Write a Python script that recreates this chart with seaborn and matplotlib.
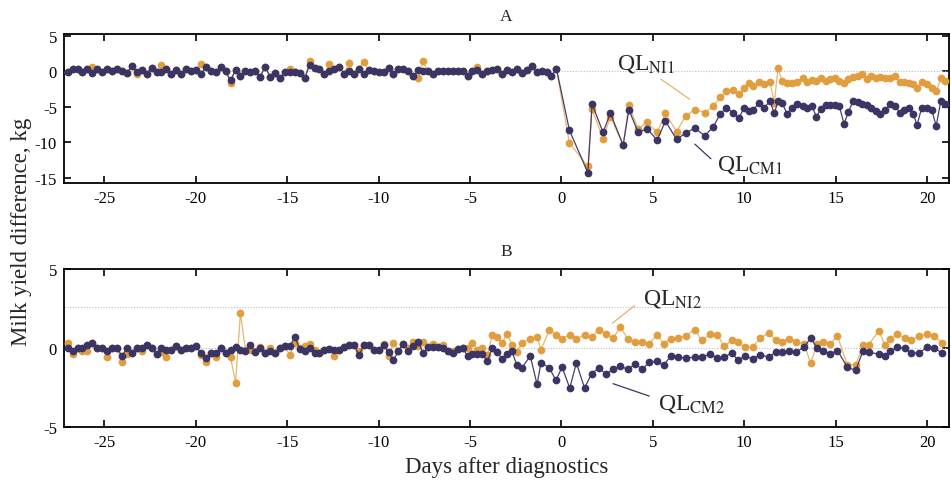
import numpy as np
import pandas as pd
import matplotlib
matplotlib.use("Agg")
import matplotlib.pyplot as plt
import seaborn as sns

# ---------------- data ----------------
# time grid before diagnosis (about 3.7 records per day)
days_pre_A = np.round(np.arange(100) * 0.27 - 27.0, 2)
days_pre_B = np.round(np.arange(93) * 0.27 - 27.0, 2)

cm1_pre = [-0.1, 0.4, 0.4, -0.1, 0.3, -0.2, 0.4, -0.1, 0.3, 0.0,
           0.3, 0.0, -0.2, 0.75, -0.1, 0.2, -0.3, 0.5, -0.1, -0.1,
           0.4, -0.4, 0.2, -0.4, 0.3, 0.0, 0.2, -0.3, 0.6, 0.0,
           -0.1, 0.6, 0.0, -1.25, 0.2, -0.65, 0.0, -0.1, 0.0, -0.75,
           0.65, -0.75, -0.2, -1.0, -0.1, -0.1, -0.1, -0.2, -1.0, 0.9,
           0.5, 0.4, -0.4, 0.1, 0.4, 0.6, -0.3, 0.0, -0.3, 0.4,
           -0.3, 0.2, 0.0, -0.1, -0.1, 0.5, -0.4, 0.3, 0.4, 0.0,
           -0.7, 0.2, 0.0, 0.0, -0.4, 0.0, 0.0, 0.0, 0.0, 0.0,
           0.0, -0.6, 0.0, 0.2, -0.4, 0.0, 0.2, 0.4, -0.4, 0.2,
           -0.1, 0.4, -0.2, 0.2, 0.7, -0.1, 0.0, -0.1, -0.7, 0.4]
ni1_pre = [-0.1, 0.4, 0.4, -0.1, 0.3, 0.6, 0.4, -0.1, 0.3, 0.0,
           0.3, 0.0, -0.2, 0.75, -0.4, 0.2, -0.3, 0.5, -0.1, 0.85,
           0.4, -0.4, 0.2, -0.4, 0.3, 0.0, 0.2, 1.0, 0.6, 0.0,
           -0.1, 0.6, 0.0, -1.6, 0.2, -0.65, 0.0, -0.1, 0.0, -0.75,
           0.65, -0.75, -0.2, -1.0, -0.1, 0.35, -0.1, -0.2, -1.0, 1.4,
           0.5, 0.4, -0.4, 1.1, 0.4, 0.6, -0.3, 1.2, -0.3, 0.4,
           1.3, 0.2, 0.0, -0.1, -0.1, 0.5, -0.4, 0.3, 0.4, 0.0,
           -0.7, -1.0, 1.4, 0.0, -0.4, 0.0, 0.0, 0.0, 0.0, 0.0,
           0.0, -0.6, 0.0, 0.6, -0.4, 0.0, 0.2, 0.4, -0.4, 0.2,
           -0.1, 0.4, -0.2, 0.2, 0.7, -0.1, 0.0, -0.1, -0.7, 0.4]

days_post_A = [0.44, 1.45, 1.68, 2.28, 2.68, 3.38, 3.69, 4.2, 4.69, 5.24,
               5.69, 6.3, 6.79, 7.3, 7.85,
               8.3, 8.7, 9.03, 9.4, 9.7, 10.0, 10.25, 10.5, 10.8, 11.08,
               11.4, 11.65, 11.85, 12.08, 12.35, 12.6, 12.9, 13.2, 13.45, 13.7,
               13.95, 14.2, 14.45, 14.7, 14.95, 15.2, 15.46, 15.7, 15.95, 16.2,
               16.45, 16.7, 16.95, 17.2, 17.45, 17.7, 18.0, 18.25, 18.5, 18.75,
               19.0, 19.25, 19.45, 19.7, 20.0, 20.25, 20.5, 20.75, 21.0]
cm1_post = [-8.3, -14.3, -4.6, -8.6, -5.9, -10.4, -5.4, -8.6, -8.1, -9.7,
            -7.0, -9.6, -8.7, -8.0, -9.1,
            -7.8, -6.0, -5.1, -5.9, -6.6, -5.1, -5.6, -5.4, -4.5, -5.2,
            -4.2, -5.9, -4.2, -4.5, -6.0, -5.1, -4.6, -4.9, -5.2, -4.9,
            -6.4, -5.3, -4.8, -4.7, -4.7, -4.9, -7.4, -5.7, -4.2, -4.3,
            -4.6, -4.8, -5.1, -5.6, -6.0, -5.4, -4.6, -4.9, -5.8, -5.4,
            -5.1, -6.0, -7.6, -5.2, -5.1, -5.4, -7.7, -4.2, -4.6]
ni1_post = [-10.1, -13.4, -5.3, -9.5, -6.4, -10.4, -4.8, -8.1, -7.2, -8.6,
            -5.9, -8.5, -6.3, -5.4, -5.8,
            -4.9, -3.6, -2.8, -2.6, -3.2, -2.3, -1.7, -2.1, -1.5, -1.8,
            -1.5, -4.4, 0.5, -1.4, -1.7, -1.7, -1.5, -1.0, -1.5, -1.2,
            -1.4, -1.0, -1.4, -1.1, -0.9, -1.3, -1.6, -1.1, -0.8, -0.6,
            -0.3, -1.1, -0.6, -0.9, -0.8, -0.9, -1.0, -0.7, -1.5, -1.5,
            -1.7, -1.8, -2.3, -1.5, -1.8, -2.3, -2.8, -1.0, -1.4]

cm2_pre = [0.0, -0.2, 0.0, 0.0, 0.2, 0.3, 0.0, 0.0, -0.2, 0.0,
           0.0, -0.5, 0.0, -0.3, 0.0, 0.0, 0.2, 0.0, -0.4, 0.0,
           -0.1, -0.1, 0.15, -0.15, 0.0, 0.0, 0.1, -0.3, -0.65, -0.3,
           -0.3, 0.0, -0.3,
           -0.1, 0.05, -0.15, -0.2, 0.2, -0.25, 0.0, -0.3, -0.2, -0.3,
           0.0, 0.1, 0.1, 0.7, -0.05, -0.2, 0.0, -0.3, -0.3,
           -0.1, -0.05, -0.1, -0.15, 0.05, 0.16, 0.16, -0.43, 0.16, 0.2,
           -0.15, -0.15, 0.16, -0.26, -0.79, -0.16, 0.27, -0.16, 0.1, 0.41,
           -0.33, 0.05, 0.05, 0.05, 0.0, -0.16, -0.3, -0.05, 0.0, -0.5,
           -0.37, -0.37, -0.37, -0.85, 0.0, -0.26, -0.68, -0.4, -0.22, -1.1,
           -1.27]
ni2_pre = [0.33, -0.37, 0.0, -0.2, -0.2, 0.3, 0.0, 0.0, -0.55, 0.0,
           0.0, -0.9, -0.4, -0.3, 0.0, -0.2, 0.2, 0.0, -0.4, -0.25,
           -0.55, -0.1, 0.15, -0.15, 0.0, 0.0, 0.1, -0.45, -0.9, -0.3,
           -0.55, 0.0, -0.3,
           -0.58, -2.2, 2.2, -0.1, -0.15, -0.2, 0.05, -0.3, 0.0, -0.3,
           0.0, 0.1, -0.45, 0.3, 0.0, 0.1, 0.27, -0.15, -0.3,
           -0.1, -0.05, -0.5, -0.15, 0.05, 0.16, 0.16, -0.2, 0.16, 0.2,
           -0.15, -0.15, 0.27, -0.5, 0.33, -0.16, 0.27, 0.0, 0.41, 0.1,
           0.41, 0.05, 0.27, 0.05, 0.16, -0.16, -0.16, -0.05, 0.0, 0.0,
           0.33, -0.1, 0.0, -0.47, 0.83, 0.69, 0.33, 0.9, 0.2, -0.26,
           0.33]

days_post_B = [-1.7, -1.33, -1.11, -0.65, -0.3, 0.04, 0.46, 0.82, 1.27, 1.65,
               2.04, 2.44, 2.83, 3.23, 3.63, 4.05, 4.42, 4.8, 5.24, 5.6,
               5.97, 6.4, 6.8, 7.3, 7.68, 8.14, 8.52, 8.92, 9.31, 9.68,
               10.03, 10.46, 10.86, 11.35, 11.72, 12.08, 12.45, 12.83, 13.27, 13.63,
               14.0, 14.3, 14.69, 15.1, 15.64, 16.1, 16.5, 16.8, 17.37, 17.68,
               18.0, 18.38, 18.8, 19.1, 19.56, 20.02, 20.4, 20.8]
cm2_post = [-0.5, -2.3, -0.93, -1.27, -2.05, -1.21, -2.54, -0.94, -2.54, -1.63,
            -1.27, -1.63, -1.36, -1.15, -1.36, -1.0, -1.36, -0.9, -0.85, -1.1,
            -0.52, -0.58, -0.64, -0.58, -0.58, -0.37, -0.64, -0.58, -0.31, -0.79,
            -0.52, -0.68, -0.43, -0.58, -0.26, -0.26, -0.16, -0.26, 0.05, 0.62,
            0.0, -0.16, -0.37, -0.16, -1.21, -1.42, -0.16, -0.25, -0.4, -0.52,
            -0.2, 0.05, 0.0, -0.31, -0.31, 0.05, 0.0, -0.31]
ni2_post = [0.54, 0.69, -0.1, 1.17, 0.8, 0.6, 0.83, 0.58, 0.83, 0.69,
            1.17, 0.9, 0.62, 1.32, 0.58, 0.41, 0.41, 0.27, 0.83, 0.27,
            0.58, 0.62, 0.79, 1.17, 0.48, 0.9, 0.83, 0.12, 0.48, 0.37,
            0.05, 0.05, 0.62, 0.96, 0.48, 0.41, 0.58, 0.41, 0.27, -0.94,
            0.27, 0.41, 0.27, 0.75, -1.06, -1.06, 0.2, 0.2, 1.1, 0.2,
            0.54, 0.9, 0.62, 0.48, 0.75, 0.9, 0.75, 0.33]

x_ticks = [-25, -20, -15, -10, -5, 0, 5, 10, 15, 20]
yticks_A = [-15, -10, -5, 0, 5]
yticks_B = [-5, 0, 5]
refline_B_upper = 2.6

NAVY = "#3b3565"
ORANGE = "#e19e3f"


def frame(days_pre, days_post, cm_pre, cm_post, ni_pre, ni_post):
    d = list(days_pre) + list(days_post)
    return pd.concat([
        pd.DataFrame({"day": d, "value": list(ni_pre) + list(ni_post), "group": "NI"}),
        pd.DataFrame({"day": d, "value": list(cm_pre) + list(cm_post), "group": "CM"}),
    ], ignore_index=True)


dfA = frame(days_pre_A, days_post_A, cm1_pre, cm1_post, ni1_pre, ni1_post)
dfB = frame(days_pre_B, days_post_B, cm2_pre, cm2_post, ni2_pre, ni2_post)

# ---------------- style ----------------
sns.set_theme(style="ticks")
plt.rcParams["font.family"] = ["Liberation Serif", "DejaVu Serif"]
plt.rcParams["mathtext.fontset"] = "stix"
plt.rcParams["axes.unicode_minus"] = False

W, H = 951, 481
fig = plt.figure(figsize=(W / 100, H / 100), dpi=100)
L, R = 64, 949
axA = fig.add_axes([L / W, 1 - 184 / H, (R - L) / W, (184 - 35) / H])
axB = fig.add_axes([L / W, 1 - 428 / H, (R - L) / W, (428 - 270) / H])


def draw(ax, df):
    z = 3
    for grp, col, la in [("NI", ORANGE, 0.75), ("CM", NAVY, 0.95)]:
        sub = df[df["group"] == grp]
        sns.lineplot(data=sub, x="day", y="value", color=col, lw=0.9, alpha=la,
                     estimator=None, sort=False, legend=False, ax=ax, zorder=z)
        sns.scatterplot(data=sub, x="day", y="value", color=col, s=31, linewidth=0,
                        legend=False, ax=ax, zorder=z + 1)
        z += 2


draw(axA, dfA)
draw(axB, dfB)

for ax in (axA, axB):
    ax.set_xlim(-27.2, 21.2)
    ax.set_xticks(x_ticks)
    ax.set_xlabel("")
    ax.set_ylabel("")
    ax.tick_params(direction="in", top=True, right=True, length=5, width=1.2,
                   labelsize=12, pad=5, colors="black")
    for s in ax.spines.values():
        s.set_linewidth(1.3)
        s.set_color("black")
    ax.axhline(0, color="#bdbdbd", ls=(0, (1, 1.5)), lw=0.8, zorder=1)

axA.set_ylim(-15.75, 5.28)
axA.set_yticks(yticks_A)
axB.set_ylim(-5, 5)
axB.set_yticks(yticks_B)
axB.axhline(refline_B_upper, color="#bdbdbd", ls=(0, (1, 1.5)), lw=0.8, zorder=1)

# panel titles
fig.text(506.5 / W, 1 - 17 / H, "A", ha="center", va="center", fontsize=12.5)
fig.text(506.5 / W, 1 - 252 / H, "B", ha="center", va="center", fontsize=12.5)

# axis labels
fig.text(506.5 / W, 1 - 468 / H, "Days after diagnostics", ha="center", va="center", fontsize=16.5)
fig.text(22 / W, 1 - 232 / H, "Milk yield difference, kg", ha="center", va="center",
         rotation=90, fontsize=16.5)

# annotations
lab_fs = 17
axA.text(3.06, 0.45, r"QL$_{\mathrm{NI1}}$", fontsize=lab_fs, ha="left", va="baseline")
axA.annotate("", xy=(7.14, -4.15), xytext=(5.31, -0.86),
             arrowprops=dict(arrowstyle="-", color=ORANGE, lw=0.9, alpha=0.8))
axA.text(8.5, -13.8, r"QL$_{\mathrm{CM1}}$", fontsize=lab_fs, ha="left", va="baseline")
axA.annotate("", xy=(7.19, -10.0), xytext=(8.29, -12.6),
             arrowprops=dict(arrowstyle="-", color=NAVY, lw=0.9))

axB.text(4.46, 2.79, r"QL$_{\mathrm{NI2}}$", fontsize=lab_fs, ha="left", va="baseline")
axB.annotate("", xy=(2.68, 1.47), xytext=(4.13, 2.79),
             arrowprops=dict(arrowstyle="-", color=ORANGE, lw=0.9, alpha=0.8))
axB.text(5.3, -3.85, r"QL$_{\mathrm{CM2}}$", fontsize=lab_fs, ha="left", va="baseline")
axB.annotate("", xy=(2.68, -2.2), xytext=(4.95, -3.1),
             arrowprops=dict(arrowstyle="-", color=NAVY, lw=0.9))

fig.savefig("out.png", dpi=100)
